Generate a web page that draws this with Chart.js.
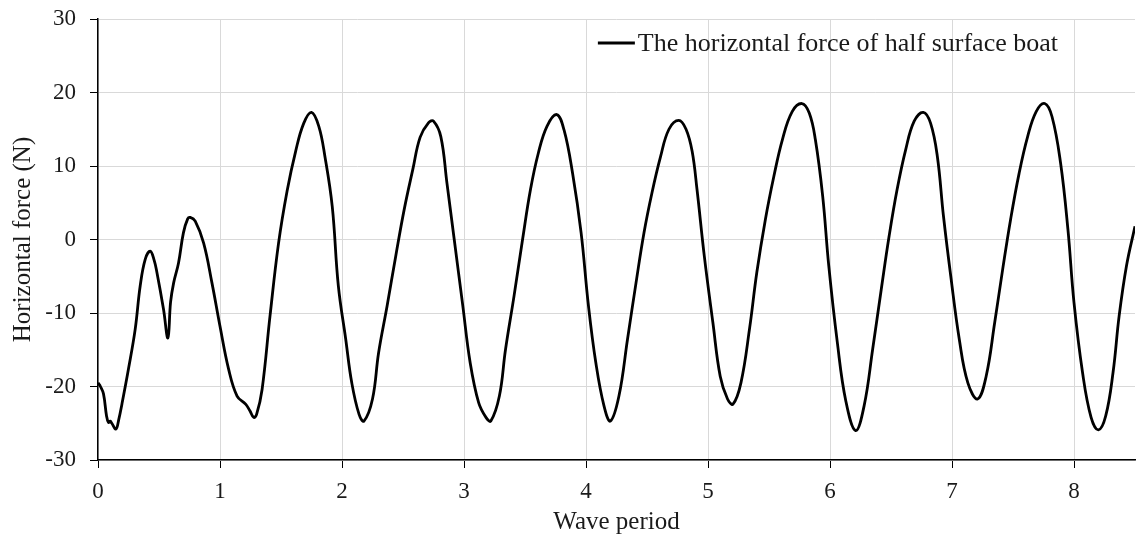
<!DOCTYPE html>
<html>
<head>
<meta charset="utf-8">
<script src="https://cdn.jsdelivr.net/npm/chart.js@4.4.1/dist/chart.umd.min.js"></script>
<style>
  html, body { margin: 0; padding: 0; background: #fff; }
  #wrap { width: 1140px; height: 541px; }
</style>
</head>
<body>
<div id="wrap"><canvas id="forceChart" width="1140" height="541"></canvas></div>
<script>
// wave period (x) and horizontal force (y)
const wavePeriod = [
  0.00, 0.02, 0.045, 0.07, 0.086, 0.10, 0.113, 0.147, 0.17, 0.196,
  0.25, 0.305, 0.346, 0.387, 0.428, 0.46, 0.483, 0.537, 0.573, 0.595,
  0.62, 0.66, 0.70, 0.735, 0.756, 0.797, 0.866, 0.934, 1.00, 1.07,
  1.14, 1.21, 1.245, 1.276, 1.30, 1.345, 1.41, 1.48, 1.55, 1.62,
  1.686, 1.75, 1.81, 1.86, 1.92, 1.97, 2.03, 2.08, 2.14, 2.18,
  2.25, 2.30, 2.37, 2.44, 2.51, 2.58, 2.64, 2.71, 2.75, 2.81,
  2.86, 2.92, 2.99, 3.05, 3.12, 3.18, 3.22, 3.29, 3.34, 3.41,
  3.48, 3.545, 3.61, 3.68, 3.76, 3.82, 3.89, 3.96, 4.02, 4.08,
  4.147, 4.20, 4.27, 4.34, 4.41, 4.475, 4.54, 4.61, 4.68, 4.76,
  4.82, 4.87, 4.91, 4.97, 5.04, 5.10, 5.16, 5.205, 5.27, 5.34,
  5.40, 5.47, 5.54, 5.61, 5.69, 5.77, 5.83, 5.88, 5.94, 5.99,
  6.06, 6.13, 6.21, 6.28, 6.35, 6.42, 6.485, 6.55, 6.62, 6.69,
  6.765, 6.825, 6.88, 6.93, 6.99, 7.06, 7.13, 7.21, 7.28, 7.35,
  7.415, 7.48, 7.55, 7.62, 7.69, 7.76, 7.82, 7.89, 7.95, 8.00,
  8.07, 8.14, 8.20, 8.26, 8.32, 8.37, 8.43, 8.50
];
const horizontalForce = [
  -19.5, -20.0, -21.0, -24.0, -24.9, -24.7, -25.0, -25.8, -24.5, -22.4,
  -17.6, -12.2, -6.3, -2.7, -1.6, -2.8, -4.5, -9.5, -13.4, -8.5,
  -5.9, -3.2, 0.9, 2.8, 3.0, 2.5, -0.5, -5.9, -11.8, -17.6,
  -21.3, -22.4, -23.3, -24.2, -23.8, -20.4, -10.4, -0.5, 6.6, 12.0,
  15.8, 17.3, 15.4, 11.3, 4.5, -6.3, -13.5, -19.5, -23.8, -24.7,
  -21.7, -15.4, -9.0, -2.3, 4.1, 9.5, 13.9, 15.9, 16.1, 14.0,
  7.7, 0.0, -9.0, -16.7, -22.2, -24.2, -24.7, -21.3, -15.0, -7.7,
  0.0, 6.8, 11.8, 15.4, 17.0, 14.9, 9.0, 0.9, -9.0, -16.7,
  -22.6, -24.7, -21.3, -13.6, -5.9, 0.9, 6.3, 11.2, 15.0, 16.2,
  15.0, 12.0, 6.8, -2.3, -11.3, -18.6, -21.7, -22.4, -19.5, -12.2,
  -4.5, 2.7, 8.6, 13.6, 17.4, 18.5, 17.2, 13.6, 5.9, -3.6,
  -14.0, -22.0, -26.0, -22.6, -14.9, -6.8, 0.5, 6.8, 12.2, 16.1,
  17.3, 15.8, 11.3, 3.2, -5.0, -13.6, -19.5, -21.7, -18.6, -11.3,
  -4.1, 2.7, 9.0, 14.0, 17.4, 18.5, 16.7, 10.4, 1.4, -8.6,
  -18.1, -24.2, -25.9, -24.0, -18.1, -10.4, -3.6, 1.8
];
const seriesLabel = 'The horizontal force of half surface boat';
const xTitle = 'Wave period';
const yTitle = 'Horizontal force (N)';

const FONT = "'Liberation Serif', 'Times New Roman', serif";
const TEXT = '#1a1a1a';

// legend drawn inside the plot, top right
const insideLegend = {
  id: 'insideLegend',
  afterDraw(chart) {
    const ctx = chart.ctx;
    const area = chart.chartArea;
    ctx.save();
    ctx.font = '26px ' + FONT;
    const w = ctx.measureText(seriesLabel).width;
    const textX = area.right - 77 - w;
    const y = area.top + 24;
    ctx.strokeStyle = '#000';
    ctx.lineWidth = 2.8;
    ctx.beginPath();
    ctx.moveTo(textX - 40, y);
    ctx.lineTo(textX - 3, y);
    ctx.stroke();
    ctx.fillStyle = TEXT;
    ctx.textBaseline = 'middle';
    ctx.textAlign = 'left';
    ctx.fillText(seriesLabel, textX, y + 1);
    ctx.restore();
  }
};

const points = wavePeriod.map((x, i) => ({ x: x, y: horizontalForce[i] }));

new Chart(document.getElementById('forceChart'), {
  type: 'line',
  data: {
    datasets: [{
      label: seriesLabel,
      data: points,
      borderColor: '#000',
      borderWidth: 2.8,
      pointRadius: 0,
      fill: false,
      tension: 0.4
    }]
  },
  options: {
    responsive: false,
    animation: false,
    layout: { padding: { top: 19, right: 5, left: 0, bottom: 0 } },
    plugins: {
      legend: { display: false },
      tooltip: { enabled: false }
    },
    scales: {
      x: {
        type: 'linear',
        min: 0,
        max: 8.5,
        afterFit: (s) => { s.height = 81; s.paddingRight = 0; s.paddingLeft = 0; },
        ticks: {
          stepSize: 1,
          includeBounds: false,
          padding: 10,
          color: TEXT,
          font: { family: FONT, size: 23 }
        },
        grid: { color: '#d9d9d9', lineWidth: 1, tickColor: '#000', tickLength: 8 },
        border: { color: '#000', width: 1.5 },
        title: {
          display: true,
          text: xTitle,
          color: TEXT,
          font: { family: FONT, size: 25 },
          padding: { top: 0, bottom: 4 }
        }
      },
      y: {
        min: -30,
        max: 30,
        afterFit: (s) => { s.width = 98; s.paddingTop = 0; s.paddingBottom = 0; },
        ticks: {
          stepSize: 10,
          padding: 14,
          color: TEXT,
          font: { family: FONT, size: 23 }
        },
        grid: { color: '#d9d9d9', lineWidth: 1, tickColor: '#000', tickLength: 8 },
        border: { color: '#000', width: 1.5 },
        title: {
          display: true,
          text: yTitle,
          color: TEXT,
          font: { family: FONT, size: 25 },
          padding: { top: 8, bottom: 0 }
        }
      }
    }
  },
  plugins: [insideLegend]
});
</script>
</body>
</html>
